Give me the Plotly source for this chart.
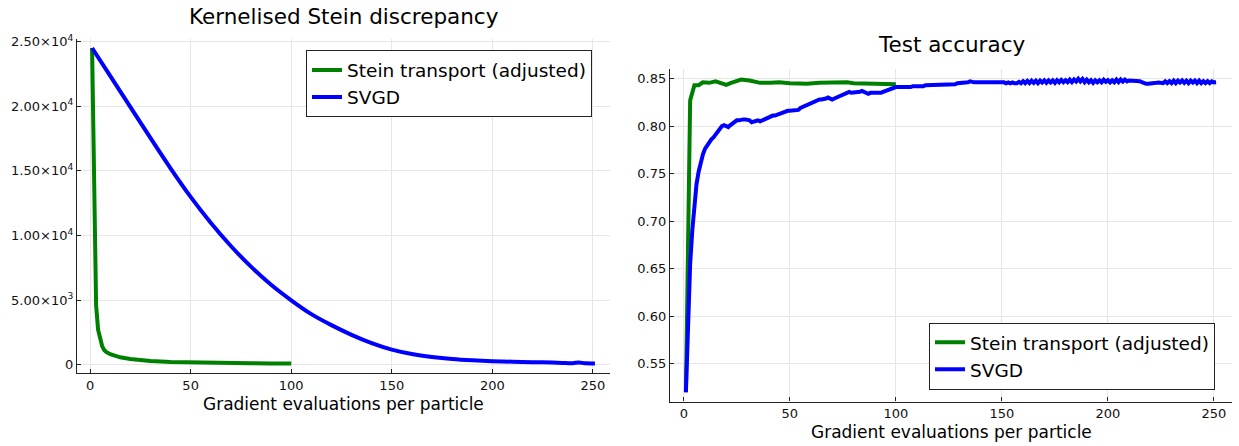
import plotly.graph_objects as go

# ---------------- data ----------------
# Kernelised Stein discrepancy
ksd_st_x = [1, 2, 3, 4, 5, 6, 7, 8, 10, 12, 15, 20, 25, 30, 40, 50, 60, 70, 80, 90, 100]
ksd_st_y = [24500, 14500, 4600, 2700, 1900, 1450, 1150, 1000, 820, 700, 580, 450, 350, 290,
            210, 170, 150, 130, 120, 110, 100]

ksd_svgd_x = [1, 10, 20, 30, 40, 50, 60, 70, 80, 90, 100, 110, 120, 130, 140, 150, 160, 170,
              180, 190, 200, 210, 220, 230, 235, 240, 243, 246, 251]
ksd_svgd_y = [24500, 22350, 19950, 17550, 15200, 12990, 10990, 9190, 7590, 6190, 4990, 3920,
              3070, 2320, 1680, 1180, 840, 610, 450, 350, 285, 240, 205, 175, 150, 130, 180,
              120, 110]

# Test accuracy
acc_st_x = [1, 3, 5, 7, 9, 12, 15, 18, 20, 22, 25, 27, 31, 34, 36, 41, 45, 50, 53, 58, 64,
            70, 77, 80, 86, 92, 100]
acc_st_y = [0.520, 0.827, 0.843, 0.843, 0.846, 0.8455, 0.847, 0.8445, 0.8434, 0.8452, 0.847,
            0.849, 0.848, 0.847, 0.8455, 0.8455, 0.846, 0.845, 0.8448, 0.8445, 0.8455,
            0.846, 0.846, 0.845, 0.8445, 0.844, 0.844]

acc_svgd_x = list(range(1, 252))
acc_svgd_y = [
    0.520, 0.600, 0.655, 0.690, 0.720, 0.739, 0.752, 0.762, 0.770, 0.776,   # 1-10
    0.780, 0.783, 0.786, 0.788, 0.791, 0.795, 0.798, 0.800, 0.801, 0.800,   # 11-20
    0.799, 0.801, 0.803, 0.805, 0.806, 0.806, 0.807, 0.807, 0.807, 0.807,   # 21-30
    0.806, 0.804, 0.805, 0.806, 0.806, 0.805, 0.806, 0.807, 0.808, 0.810,   # 31-40
    0.811, 0.811, 0.811, 0.812, 0.813, 0.814, 0.815, 0.815, 0.816, 0.816,   # 41-50
    0.816, 0.816, 0.816, 0.817, 0.819, 0.820, 0.821, 0.822, 0.823, 0.824,   # 51-60
    0.825, 0.827, 0.828, 0.828, 0.828, 0.828, 0.829, 0.830, 0.829, 0.828,   # 61-70
    0.829, 0.830, 0.831, 0.833, 0.834, 0.835, 0.835, 0.836, 0.835, 0.835,   # 71-80
    0.835, 0.836, 0.836, 0.837, 0.836, 0.835, 0.834, 0.835, 0.835, 0.835,   # 81-90
    0.834, 0.834, 0.835, 0.836, 0.837, 0.838, 0.839, 0.840, 0.841, 0.841,   # 91-100
    0.841, 0.841, 0.840, 0.840, 0.840, 0.841, 0.841, 0.842, 0.842, 0.841,   # 101-110
    0.841, 0.842, 0.842, 0.843, 0.843, 0.844, 0.844, 0.844, 0.843, 0.843,   # 111-120
    0.843, 0.843, 0.843, 0.843, 0.844, 0.844, 0.844, 0.844, 0.845, 0.845,   # 121-130
    0.845, 0.846, 0.846, 0.846, 0.847, 0.846, 0.846, 0.846, 0.846, 0.846,   # 131-140
    0.847, 0.846, 0.847, 0.846, 0.847, 0.846, 0.847, 0.847, 0.847, 0.846,   # 141-150
    0.846, 0.845, 0.846, 0.845, 0.846, 0.845, 0.845, 0.8465, 0.8450, 0.8472,  # 151-160
    0.8452, 0.8475, 0.8452, 0.8478, 0.8455, 0.8478, 0.8452, 0.8478, 0.8458, 0.8480,  # 161-170
    0.8455, 0.8480, 0.8458, 0.8480, 0.8455, 0.8482, 0.8460, 0.8485, 0.8462, 0.8482,  # 171-180
    0.8462, 0.8488, 0.8462, 0.8490, 0.8468, 0.8498, 0.8470, 0.8495, 0.8462, 0.8488,  # 181-190
    0.8460, 0.8482, 0.8455, 0.8480, 0.8460, 0.8482, 0.8460, 0.8488, 0.8465, 0.8482,  # 191-200
    0.8460, 0.8482, 0.8460, 0.8488, 0.8462, 0.8490, 0.8468, 0.8488, 0.8470, 0.8480,  # 201-210
    0.8480, 0.8478, 0.8480, 0.8478, 0.8472, 0.8462, 0.8452, 0.8445, 0.8445, 0.8445,  # 211-220
    0.8448, 0.8450, 0.8455, 0.8458, 0.8460, 0.8452, 0.8470, 0.8452, 0.8472, 0.8452,  # 221-230
    0.8478, 0.8452, 0.8478, 0.8458, 0.8480, 0.8455, 0.8478, 0.8452, 0.8478, 0.8458,  # 231-240
    0.8478, 0.8452, 0.8478, 0.8452, 0.8472, 0.8452, 0.8472, 0.8452, 0.8470, 0.8460,  # 241-250
    0.8462,                                                                           # 251
]

x_ticks = [0, 50, 100, 150, 200, 250]
ksd_tickvals = [0, 5000, 10000, 15000, 20000, 25000]
ksd_ticktext = ["0", "5.00×10<sup>3</sup>", "1.00×10<sup>4</sup>", "1.50×10<sup>4</sup>",
                "2.00×10<sup>4</sup>", "2.50×10<sup>4</sup>"]
acc_tickvals = [0.55, 0.60, 0.65, 0.70, 0.75, 0.80, 0.85]
acc_ticktext = ["0.55", "0.60", "0.65", "0.70", "0.75", "0.80", "0.85"]

GREEN = "#008000"
BLUE = "#0000FF"
FONT = "DejaVu Sans"

W, H = 1239, 446


def fx(p):
    return p / W


def fy(p):
    return (H - p) / H


LW = 4

fig = go.Figure()
fig.add_trace(go.Scatter(x=ksd_st_x, y=ksd_st_y, mode="lines", name="Stein transport (adjusted)",
                         line=dict(color=GREEN, width=LW), xaxis="x", yaxis="y", legend="legend"))
fig.add_trace(go.Scatter(x=ksd_svgd_x, y=ksd_svgd_y, mode="lines", name="SVGD",
                         line=dict(color=BLUE, width=LW, shape="spline", smoothing=0.8),
                         xaxis="x", yaxis="y", legend="legend"))
fig.add_trace(go.Scatter(x=acc_st_x, y=acc_st_y, mode="lines", name="Stein transport (adjusted)",
                         line=dict(color=GREEN, width=LW), xaxis="x2", yaxis="y2", legend="legend2"))
fig.add_trace(go.Scatter(x=acc_svgd_x, y=acc_svgd_y, mode="lines", name="SVGD",
                         line=dict(color=BLUE, width=LW), xaxis="x2", yaxis="y2", legend="legend2"))

axis_common = dict(showgrid=True, gridcolor="#e6e6e6", gridwidth=1, zeroline=False,
                   showline=True, linecolor="#222222", linewidth=1.3, ticks="inside",
                   ticklen=4, tickcolor="#222222", mirror=False,
                   tickfont=dict(family=FONT, size=13, color="#111111"))

legend_common = dict(bgcolor="white", bordercolor="#222222", borderwidth=1,
                     font=dict(family=FONT, size=18.5, color="black"), tracegroupgap=0,
                     itemwidth=30)

fig.update_layout(
    width=W, height=H, margin=dict(l=0, r=0, t=0, b=0),
    paper_bgcolor="white", plot_bgcolor="white",
    font=dict(family=FONT, color="black"),
    xaxis=dict(domain=[fx(77), fx(610)], range=[-6.5, 258.5], tickvals=x_ticks,
               anchor="y", **axis_common),
    yaxis=dict(domain=[fy(372), fy(33)], range=[-632, 25232],
               tickvals=ksd_tickvals, ticktext=ksd_ticktext, anchor="x", **axis_common),
    xaxis2=dict(domain=[fx(670), fx(1232)], range=[-6.5, 258.5], tickvals=x_ticks,
                anchor="y2", **axis_common),
    yaxis2=dict(domain=[fy(401), fy(64)], range=[0.5101, 0.8599],
                tickvals=acc_tickvals, ticktext=acc_ticktext, anchor="x2", **axis_common),
    legend=dict(x=fx(592), y=fy(45), xanchor="right", yanchor="top", **legend_common),
    legend2=dict(x=fx(1215), y=fy(389), xanchor="right", yanchor="bottom", **legend_common),
    annotations=[
        dict(text="Kernelised Stein discrepancy", x=fx(343.5), y=fy(11), xref="paper",
             yref="paper", showarrow=False, xanchor="center", yanchor="middle",
             font=dict(family=FONT, size=21.5, color="black")),
        dict(text="Test accuracy", x=fx(951), y=fy(39), xref="paper", yref="paper",
             showarrow=False, xanchor="center", yanchor="middle",
             font=dict(family=FONT, size=21.5, color="black")),
        dict(text="Gradient evaluations per particle", x=fx(343.5), y=fy(403),
             xref="paper", yref="paper", showarrow=False, xanchor="center", yanchor="middle",
             font=dict(family=FONT, size=17, color="black")),
        dict(text="Gradient evaluations per particle", x=fx(951), y=fy(432),
             xref="paper", yref="paper", showarrow=False, xanchor="center", yanchor="middle",
             font=dict(family=FONT, size=17, color="black")),
    ],
)

fig.write_html("out.html", config={"displayModeBar": False},
               post_script="document.body.style.margin='0';document.body.style.overflow='hidden';")
